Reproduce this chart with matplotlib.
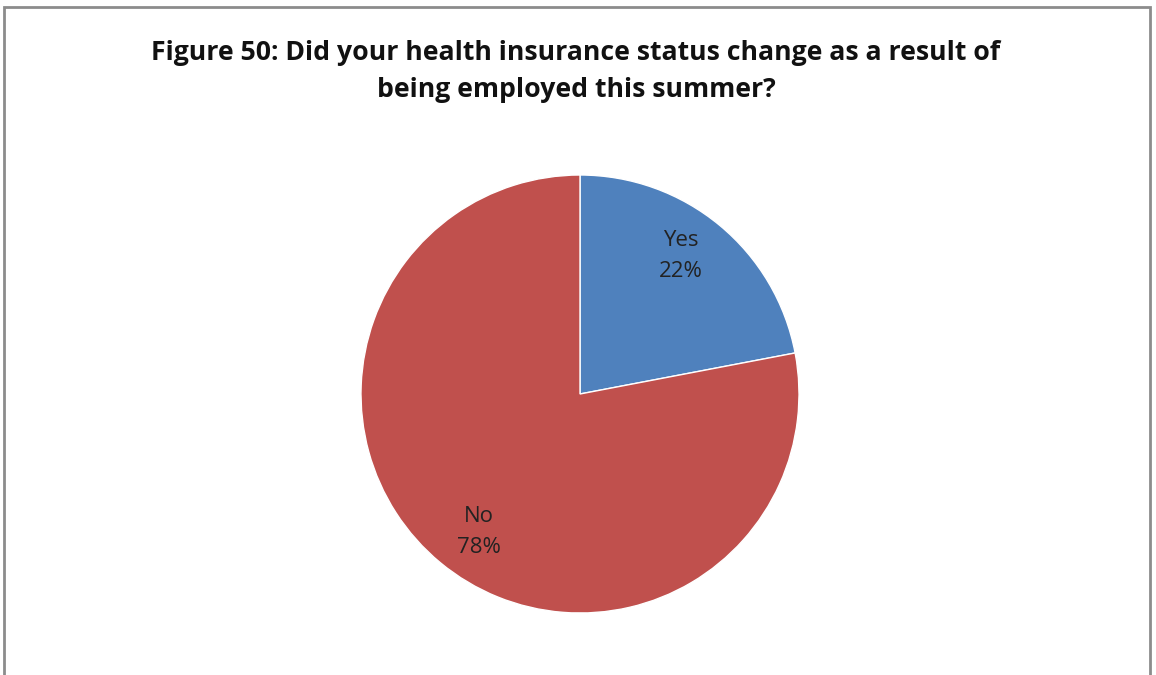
import matplotlib
matplotlib.use("Agg")
import matplotlib.pyplot as plt
import numpy as np
from matplotlib.patches import Rectangle

categories = ["Yes", "No"]
values = [22, 78]
colors = ["#4F81BD", "#C0504D"]
title = "Figure 50: Did your health insurance status change as a result of\nbeing employed this summer?"

W, H = 1156, 675
fig = plt.figure(figsize=(W / 100, H / 100), dpi=100)
fig.patch.set_facecolor("white")

# frame
fig.add_artist(Rectangle((4 / W, -0.05), (1150 - 4) / W, (H - 7) / H + 0.05,
                         transform=fig.transFigure, fill=False,
                         edgecolor="#8C8C8C", linewidth=2))

cx, cy, r = 580, 394, 219
ax = fig.add_axes([(cx - r) / W, (H - cy - r) / H, 2 * r / W, 2 * r / H])
ax.axis("off")

labels = [f"{c}\n{v}%" for c, v in zip(categories, values)]
wedges, texts = ax.pie(values, labels=labels, colors=colors, startangle=90,
                       counterclock=False, labeldistance=0.78, radius=1,
                       wedgeprops=dict(edgecolor="white", linewidth=1),
                       textprops=dict(fontsize=16, color="#222222",
                                      family="Open Sans", linespacing=1.6))
for w, t in zip(wedges, texts):
    mid = np.deg2rad((w.theta1 + w.theta2) / 2 + 3.5)
    t.set_position((0.78 * np.cos(mid), 0.78 * np.sin(mid)))
    t.set_ha("center")
    t.set_va("center")
ax.set_xlim(-1, 1)
ax.set_ylim(-1, 1)

fig.text(576 / W, 1 - 71.5 / H, title, ha="center", va="center",
         fontsize=19.2, fontweight="bold", family="Open Sans",
         linespacing=1.58, color="#111111")

fig.savefig("out.png", dpi=100)
